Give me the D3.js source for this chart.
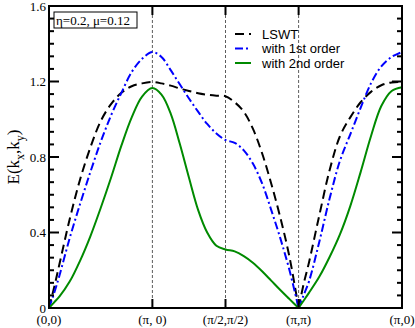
<!DOCTYPE html>
<html>
<head>
<meta charset="utf-8">
<script src="https://cdn.jsdelivr.net/npm/d3@7"></script>
<style>
  body { margin: 0; background: #fff; }
  svg { display: block; }
  .serif { font-family: "Liberation Serif", "DejaVu Serif", serif; }
  .sans { font-family: "Liberation Sans", Arial, sans-serif; }
</style>
</head>
<body>
<div id="chart"></div>
<script>
// path through the zone, distance along it in units of pi
const kPath = [
  0, 0.05, 0.1, 0.2, 0.3, 0.4, 0.5, 0.6, 0.7, 0.8, 0.9, 1.0,
  1.088, 1.177, 1.265, 1.354, 1.442, 1.530, 1.619, 1.707,
  1.796, 1.884, 1.972, 2.061, 2.149, 2.237, 2.326, 2.414,
  2.464, 2.514, 2.614, 2.714, 2.814, 2.914, 3.014, 3.114, 3.214, 3.314, 3.414
]
const lswt = [
  0, 0.11, 0.23, 0.47, 0.68, 0.85, 0.99, 1.08, 1.14, 1.175, 1.19, 1.197,
  1.19, 1.178, 1.163, 1.15, 1.138, 1.13, 1.125, 1.122,
  1.09, 1.04, 0.95, 0.82, 0.66, 0.48, 0.27, 0,
  0.13, 0.24, 0.49, 0.73, 0.91, 1.01, 1.09, 1.145, 1.18, 1.195, 1.197
]
const firstOrder = [
  0, 0.08, 0.17, 0.37, 0.55, 0.72, 0.88, 1.02, 1.14, 1.25, 1.32, 1.356,
  1.33, 1.26, 1.185, 1.11, 1.04, 0.975, 0.925, 0.89,
  0.875, 0.835, 0.765, 0.66, 0.52, 0.37, 0.20, 0,
  0.07, 0.14, 0.35, 0.58, 0.78, 0.92, 1.06, 1.19, 1.28, 1.33, 1.356
]
const secondOrder = [
  0, 0.03, 0.06, 0.14, 0.25, 0.38, 0.53, 0.69, 0.86, 1.01, 1.12, 1.165,
  1.13, 1.03, 0.87, 0.69, 0.52, 0.40, 0.33, 0.31,
  0.30, 0.275, 0.24, 0.195, 0.145, 0.095, 0.047, 0,
  0.04, 0.08, 0.165, 0.27, 0.39, 0.54, 0.72, 0.91, 1.07, 1.15, 1.17
]
const symPoints = [0, 1, 1 + Math.SQRT2 / 2, 1 + Math.SQRT2, 2 + Math.SQRT2]
const symLabels = ["(0,0)", "(\u03c0, 0)", "(\u03c0/2,\u03c0/2)", "(\u03c0,\u03c0)", "(\u03c0,0)"]
const yTicks = [0, 0.4, 0.8, 1.2, 1.6]
const yTickLabels = ["0", "0.4", "0.8", "1.2", "1.6"]
const seriesNames = ["LSWT", "with 1st order", "with 2nd order"]

const width = 415,
    height = 328,
    margin = { top: 6, right: 13, bottom: 20, left: 49 }

const x = d3.scaleLinear()
    .domain([0, 2 + Math.SQRT2])
    .range([margin.left, width - margin.right])
const y = d3.scaleLinear()
    .domain([0, 1.6])
    .range([height - margin.bottom, margin.top])

const svg = d3.select("#chart").append("svg")
    .attr("width", width)
    .attr("height", height)

// vertical guides at symmetry points
svg.selectAll("line.guide")
    .data(symPoints.slice(1, 4))
    .join("line")
    .attr("class", "guide")
    .attr("x1", d => x(d)).attr("x2", d => x(d))
    .attr("y1", y(0)).attr("y2", y(1.6))
    .attr("stroke", "#333")
    .attr("stroke-width", 0.8)
    .attr("stroke-dasharray", "3,2")

// minor y ticks: 6 intervals per major step
const minor = d3.range(0, 25).map(i => i * 0.4 / 6)

const series = [
  { name: seriesNames[0], values: lswt, color: "#000", dash: "9,5" },
  { name: seriesNames[1], values: firstOrder, color: "#0000ff", dash: "8,3,2,3" },
  { name: seriesNames[2], values: secondOrder, color: "#008a00", dash: null }
]

// split at (pi,pi) so the cusp stays sharp
const iM = kPath.indexOf(2.414)
const line = d3.line()
    .x(d => x(d[0]))
    .y(d => y(d[1]))
    .curve(d3.curveCatmullRom.alpha(0.5))

series.forEach(s => {
  const pts = kPath.map((k, i) => [k, s.values[i]])
  const parts = [pts.slice(0, iM + 1), pts.slice(iM)]
  svg.append("path")
      .attr("d", parts.map(p => line(p)).join(""))
      .attr("fill", "none")
      .attr("stroke", s.color)
      .attr("stroke-width", 2)
      .attr("stroke-dasharray", s.dash)
})

// frame
svg.append("rect")
    .attr("x", x(0)).attr("y", y(1.6))
    .attr("width", x(2 + Math.SQRT2) - x(0))
    .attr("height", y(0) - y(1.6))
    .attr("fill", "none")
    .attr("stroke", "#000")
    .attr("stroke-width", 2)

// y ticks, left and right, inward
const yt = svg.append("g").attr("stroke", "#000").attr("stroke-width", 2)
minor.forEach((v, i) => {
  const len = i % 6 === 0 ? 10 : 5
  yt.append("line").attr("x1", x(0)).attr("x2", x(0) + len)
      .attr("y1", y(v)).attr("y2", y(v))
  yt.append("line").attr("x1", x(2 + Math.SQRT2)).attr("x2", x(2 + Math.SQRT2) - len)
      .attr("y1", y(v)).attr("y2", y(v))
})
// x ticks bottom and top
symPoints.forEach(k => {
  yt.append("line").attr("x1", x(k)).attr("x2", x(k))
      .attr("y1", y(0)).attr("y2", y(0) - 9)
  yt.append("line").attr("x1", x(k)).attr("x2", x(k))
      .attr("y1", y(1.6)).attr("y2", y(1.6) + 9)
})

svg.selectAll("text.ylab")
    .data(yTicks)
    .join("text")
    .attr("class", "ylab serif")
    .attr("x", x(0) - 3)
    .attr("y", d => y(d) + 4.5)
    .attr("text-anchor", "end")
    .attr("font-size", 13)
    .text((d, i) => yTickLabels[i])

svg.selectAll("text.xlab")
    .data(symPoints)
    .join("text")
    .attr("class", "xlab serif")
    .attr("x", d => x(d))
    .attr("y", height - 4)
    .attr("text-anchor", "middle")
    .attr("font-size", 13)
    .text((d, i) => symLabels[i])

// y axis title
const title = svg.append("text")
    .attr("class", "serif")
    .attr("transform", `translate(19,${(y(0) + y(1.6)) / 2}) rotate(-90)`)
    .attr("text-anchor", "middle")
    .attr("font-size", 17)
title.append("tspan").text("E(k")
title.append("tspan").attr("font-size", 12).attr("dy", 5).text("x")
title.append("tspan").attr("dy", -5).text(",k")
title.append("tspan").attr("font-size", 12).attr("dy", 5).text("y")
title.append("tspan").attr("dy", -5).text(")")

// parameter box
svg.append("rect")
    .attr("x", 54).attr("y", 12)
    .attr("width", 83).attr("height", 16)
    .attr("fill", "#fff")
    .attr("stroke", "#000")
    .attr("stroke-width", 1)
svg.append("text")
    .attr("class", "serif")
    .attr("x", 56).attr("y", 24.5)
    .attr("font-size", 13)
    .text("\u03b7=0.2, \u03bc=0.12")

// legend
const legend = svg.selectAll("g.legend")
    .data(series)
    .join("g")
    .attr("class", "legend")
    .attr("transform", (d, i) => `translate(235,${34 + i * 14.5})`)
legend.append("line")
    .attr("x1", 0).attr("x2", 16)
    .attr("stroke", d => d.color)
    .attr("stroke-width", 2)
    .attr("stroke-dasharray", d => d.dash)
legend.append("text")
    .attr("class", "sans")
    .attr("x", 27).attr("y", 4.5)
    .attr("font-size", 13)
    .text(d => d.name)
</script>
</body>
</html>
